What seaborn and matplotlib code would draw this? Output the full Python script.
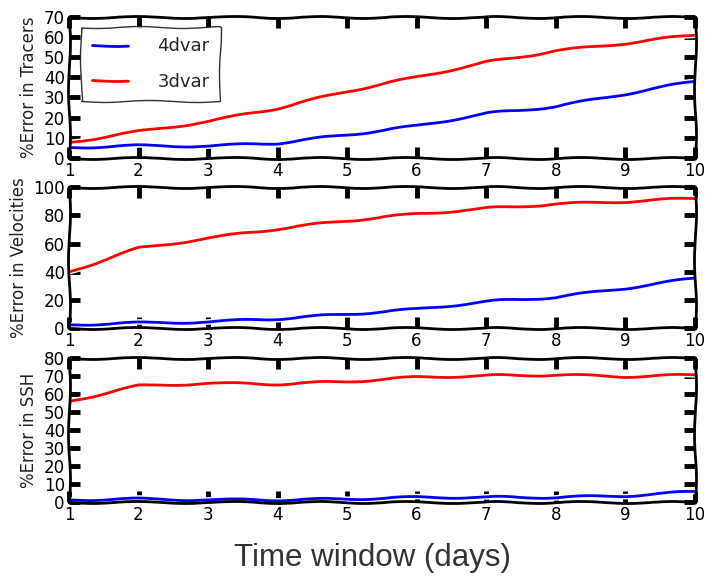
import numpy as np
import pandas as pd
import matplotlib
matplotlib.use("Agg")
import matplotlib.pyplot as plt
import matplotlib.patheffects as pe
import seaborn as sns

days = [1, 2, 3, 4, 5, 6, 7, 8, 9, 10]
methods = ["4dvar", "3dvar"]

tracers_4dvar = [5.1, 6.0, 5.8, 7.3, 11.4, 15.8, 22.0, 25.4, 31.7, 38.0]
tracers_3dvar = [7.6, 13.0, 18.0, 24.6, 33.0, 40.0, 47.4, 53.0, 56.8, 61.0]

vel_4dvar = [2.5, 3.8, 4.5, 6.8, 10.0, 13.5, 19.0, 22.0, 28.4, 35.5]
vel_3dvar = [40.0, 56.7, 63.8, 70.5, 76.3, 81.0, 85.0, 88.0, 89.8, 92.2]

ssh_4dvar = [1.0, 1.5, 1.0, 1.0, 1.5, 2.4, 2.5, 2.4, 3.3, 5.6]
ssh_3dvar = [56.0, 64.6, 66.0, 65.6, 67.0, 69.4, 70.3, 70.7, 69.8, 70.7]

ylabels = ["%Error in Tracers", "%Error in Velocities", "%Error in SSH"]
ylims = [(0, 70), (0, 100), (0, 80)]
ytick_steps = [10, 20, 10]
xlabel = "Time window (days)"

palette = {"4dvar": "#0000ff", "3dvar": "#ff0000"}

def make_df(a, b):
    return pd.DataFrame({
        "day": days + days,
        "method": ["4dvar"] * len(days) + ["3dvar"] * len(days),
        "error": a + b,
    })

frames = [make_df(tracers_4dvar, tracers_3dvar),
          make_df(vel_4dvar, vel_3dvar),
          make_df(ssh_4dvar, ssh_3dvar)]

sns.set_style("white")
np.random.seed(3)
plt.xkcd(scale=1, length=100, randomness=2)
plt.rcParams["font.family"] = ["DejaVu Sans"]
plt.rcParams["path.sketch"] = None
plt.rcParams["path.effects"] = []

SK = (1, 100, 2)
halo = [pe.withStroke(linewidth=4, foreground="w")]

fig = plt.figure(figsize=(7.06, 5.76), dpi=100)
positions = [
    [0.0977, 0.726, 0.8863, 0.245],
    [0.0977, 0.430, 0.8863, 0.245],
    [0.0977, 0.129, 0.8863, 0.249],
]

for i, (df, pos) in enumerate(zip(frames, positions)):
    ax = fig.add_axes(pos)
    sns.lineplot(data=df, x="day", y="error", hue="method", hue_order=methods,
                 palette=palette, ax=ax, linewidth=2.0, legend=(i == 0))
    for ln in ax.get_lines():
        ln.set_sketch_params(*SK)
        ln.set_path_effects(halo)
    ax.set_xlim(1, 10)
    ax.set_ylim(*ylims[i])
    ax.set_xticks(days)
    ax.set_yticks(np.arange(ylims[i][0], ylims[i][1] + 1, ytick_steps[i]))
    ax.tick_params(direction="in", length=8, width=3.5, top=True, right=True,
                   bottom=True, left=True, labelsize=12, pad=3, colors="black")
    for s in ax.spines.values():
        s.set_linewidth(2.0)
        s.set_color("black")
        s.set_sketch_params(*SK)
    ax.set_xlabel("")
    ax.set_ylabel(ylabels[i], fontsize=12, color="#222222", labelpad=4)
    if i == 0:
        leg = ax.legend(loc="upper left", bbox_to_anchor=(0.02, 0.93),
                        borderaxespad=0, fontsize=13, handlelength=2.0,
                        handletextpad=1.6, labelspacing=0.95, borderpad=0.6,
                        fancybox=False, frameon=True)
        leg.get_frame().set_edgecolor("black")
        leg.get_frame().set_linewidth(1.0)
        leg.get_frame().set_sketch_params(*SK)
        for h in leg.get_lines():
            h.set_sketch_params(*SK)

fig.text(0.527, 0.032, xlabel, ha="center", va="center", fontsize=22.5,
         color="#333333", family=["Liberation Sans", "DejaVu Sans"])

fig.savefig("out.png", dpi=100, facecolor="white")
